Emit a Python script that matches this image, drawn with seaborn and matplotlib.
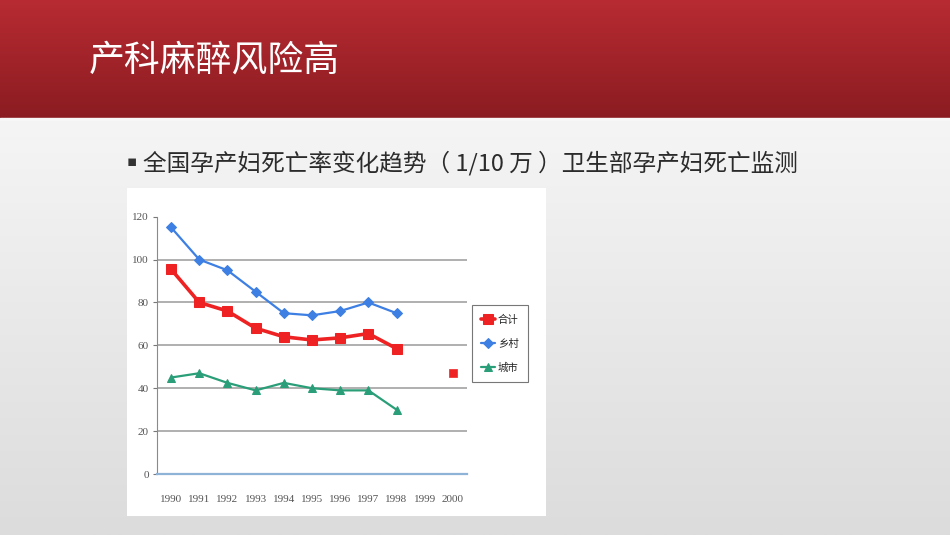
import numpy as np
import pandas as pd
import matplotlib
matplotlib.use("Agg")
import matplotlib.pyplot as plt
from matplotlib.patches import Rectangle
from matplotlib.colors import LinearSegmentedColormap
import seaborn as sns

# ---------------- data ----------------
years = ["1990", "1991", "1992", "1993", "1994", "1995", "1996", "1997", "1998", "1999", "2000"]
total = [95.5, 80, 76, 68, 64, 62.5, 63.5, 65.5, 58.5]          # 合计 1990-1998
total_2000 = 47                                                   # 合计 2000 (isolated)
rural = [115, 100, 95, 85, 75, 74, 76, 80, 75]                    # 乡村
urban = [45, 47, 42.5, 39, 42.5, 40, 39, 39, 30]                  # 城市
series_labels = ["合计", "乡村", "城市"]
y_ticks = [0, 20, 40, 60, 80, 100, 120]

title = "产科麻醉风险高"
bullet = "全国孕产妇死亡率变化趋势（ 1/10 万 ）卫生部孕产妇死亡监测"

sns.set_theme(style="white")
plt.rcParams["font.family"] = ["Noto Sans CJK SC", "DejaVu Sans"]

W, H = 950, 535
fig = plt.figure(figsize=(W / 100, H / 100), dpi=100)

# ---------------- slide background ----------------
bg = fig.add_axes([0, 0, 1, 1])
bg.set_xlim(0, W)
bg.set_ylim(H, 0)
bg.axis("off")
body_cmap = LinearSegmentedColormap.from_list("body", ["#f5f5f5", "#dcdcdc"])
grad = np.linspace(0, 1, 256).reshape(-1, 1)
bg.imshow(grad, cmap=body_cmap, extent=[0, W, H, 119], aspect="auto", zorder=0)
head_cmap = LinearSegmentedColormap.from_list("head", ["#b82b32", "#8a1c21"])
bg.imshow(grad, cmap=head_cmap, extent=[0, W, 118, 0], aspect="auto", zorder=1)
bg.add_patch(Rectangle((0, 118), W, 2, color="#f7f7f7", zorder=2))
bg.text(89, 61, title, color="white", fontsize=25.8, va="center", ha="left", zorder=3)
bg.text(127, 161, "▪", family="DejaVu Sans", color="#333333", fontsize=11,
        va="center", ha="left", zorder=3)
bg.text(143, 163, bullet, color="#2b2b2b", fontsize=17, va="center", ha="left", zorder=3)
# white picture panel
bg.add_patch(Rectangle((127, 188), 419, 328, facecolor="white", edgecolor="none", zorder=2))

# ---------------- chart ----------------
ax_l, ax_r, ax_t, ax_b = 157, 467, 216.7, 474
ax = fig.add_axes([ax_l / W, 1 - ax_b / H, (ax_r - ax_l) / W, (ax_b - ax_t) / H])
ax.set_facecolor("none")

x9 = np.arange(len(total))
red, blue, green = "#ee2222", "#3d7fe3", "#2a9e78"

sns.lineplot(x=x9, y=rural, ax=ax, color=blue, lw=1.6, marker="D", markersize=5,
             markeredgecolor=blue, label=series_labels[1], zorder=4)
sns.lineplot(x=x9, y=total, ax=ax, color=red, lw=2.6, marker="s", markersize=7,
             markeredgecolor=red, label=series_labels[0], zorder=5)
sns.lineplot(x=x9, y=urban, ax=ax, color=green, lw=1.6, marker="^", markersize=6,
             markeredgecolor=green, label=series_labels[2], zorder=4)
sns.scatterplot(x=[years.index("2000")], y=[total_2000], ax=ax, color=red, marker="s",
                s=36, edgecolor=red, zorder=5, legend=False)

ax.set_xlim(-0.5, len(years) - 0.5)
ax.set_ylim(0, 120)
ax.set_xticks(range(len(years)))
ax.set_xticklabels(years)
ax.set_xticks(np.arange(-0.5, len(years) + 0.5, 1), minor=True)
ax.tick_params(axis="x", which="major", length=0, pad=15, labelsize=8, colors="#555555")
ax.tick_params(axis="x", which="minor", length=3, width=0.8, color="#777777", direction="out")
ax.set_yticks(y_ticks)
ax.tick_params(axis="y", length=3, width=0.8, color="#777777", labelsize=8,
               colors="#555555", pad=3, left=True)
for lab in ax.get_xticklabels() + ax.get_yticklabels():
    lab.set_family("Liberation Serif")
    lab.set_color("#555555")

for v in y_ticks[1:-1]:
    ax.axhline(v, color="#9a9a9a", lw=1.1, zorder=1)

for s in ["top", "right"]:
    ax.spines[s].set_visible(False)
ax.spines["left"].set_color("#8a8a8a")
ax.spines["left"].set_linewidth(0.8)
ax.spines["bottom"].set_color("#8fb3d6")
ax.spines["bottom"].set_linewidth(1.6)
ax.set_xlabel("")
ax.set_ylabel("")

handles, labels = ax.get_legend_handles_labels()
order = [labels.index(l) for l in series_labels]
leg = ax.legend([handles[i] for i in order], [labels[i] for i in order],
                loc="upper left", bbox_to_anchor=(1.016, 0.657), borderaxespad=0,
                fontsize=7.5, frameon=True, fancybox=False, labelspacing=1.35,
                handlelength=1.3, handletextpad=0.3, borderpad=0.9)
leg.get_frame().set_edgecolor("#555555")
leg.get_frame().set_linewidth(0.8)

fig.savefig("out.png", dpi=100)
